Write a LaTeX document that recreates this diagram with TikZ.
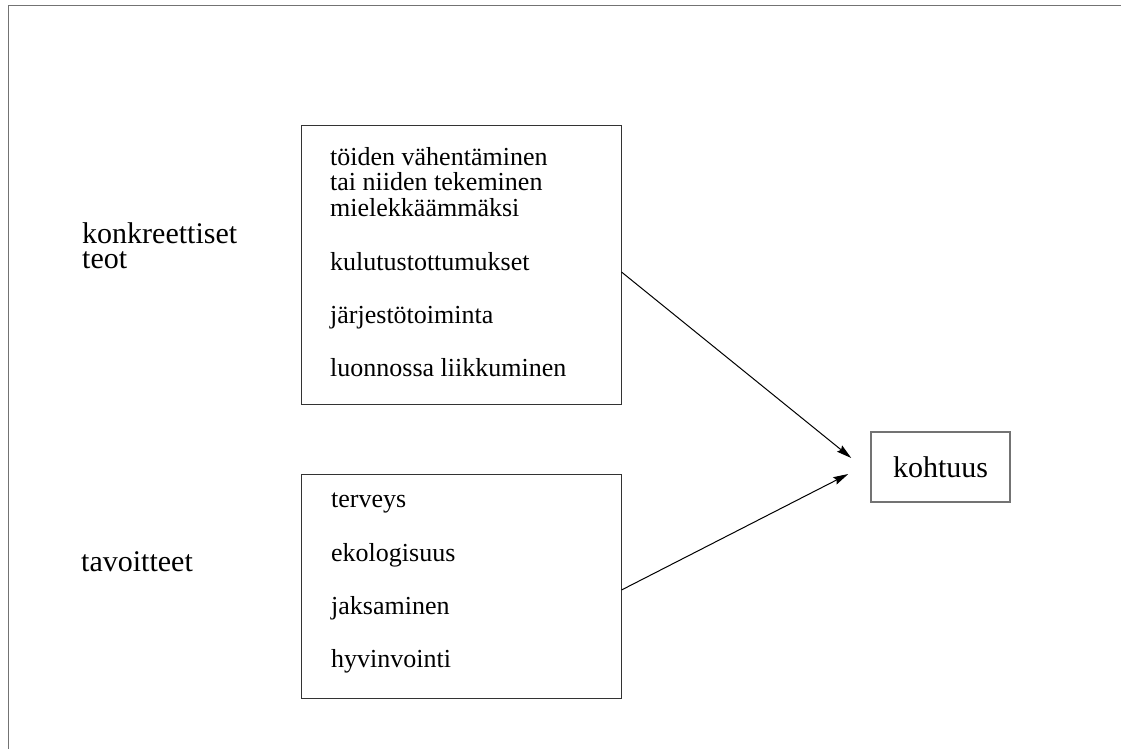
\documentclass[tikz,border=0pt]{standalone}
\usepackage{fontspec}
\setmainfont{Liberation Serif}
\usetikzlibrary{arrows.meta}

\tikzset{
 box/.style={draw=black!80, line width=1pt, inner sep=0pt},
 item/.style={anchor=base west, inner sep=0pt, font=\fontsize{26}{26}\selectfont},
 lbl/.style={anchor=base west, inner sep=0pt, align=left, font=\fontsize{30}{25}\selectfont},
 arr/.style={-{Stealth[length=15pt,width=8pt,inset=2pt]}, line width=1pt},
}

\begin{document}
\begin{tikzpicture}[x=1pt,y=-1pt]
 \useasboundingbox (0,0) rectangle (1121,749);
 \draw[black!55, line width=1pt] (8,749) -- (8,6) -- (1121,6);

 % left labels
 \node[lbl] (konkr) at (82,268) {konkreettiset\\teot};
 \node[lbl] (tavl) at (81,571) {tavoitteet};

 % boxes
 \node[box, minimum width=320pt, minimum height=278pt] (teot) at (461,265) {};
 \node[box, minimum width=320pt, minimum height=224pt] (tav) at (461,586) {};
 \node[box, draw=black!55, line width=1.5pt, minimum width=139pt, minimum height=70pt,
  font=\fontsize{30}{30}\selectfont] (koht) at (940.5,467) {kohtuus};

 \foreach \t/\y in {töiden vähentäminen/165, tai niiden tekeminen/190,
  mielekkäämmäksi/216, kulutustottumukset/270, järjestötoiminta/323,
  luonnossa liikkuminen/376} {
  \node[item] (a\y) at (330,\y) {\t};
 }
 \foreach \t/\y in {terveys/507, ekologisuus/561, jaksaminen/614, hyvinvointi/667} {
  \node[item] (b\y) at (331,\y) {\t};
 }

 \draw[arr] ([yshift=-7pt]teot.east) -- ([xshift=-19pt,yshift=9pt]koht.west);
 \draw[arr] ([yshift=-4pt]tav.east) -- ([xshift=-22pt,yshift=-7pt]koht.west);

\end{tikzpicture}
\end{document}
